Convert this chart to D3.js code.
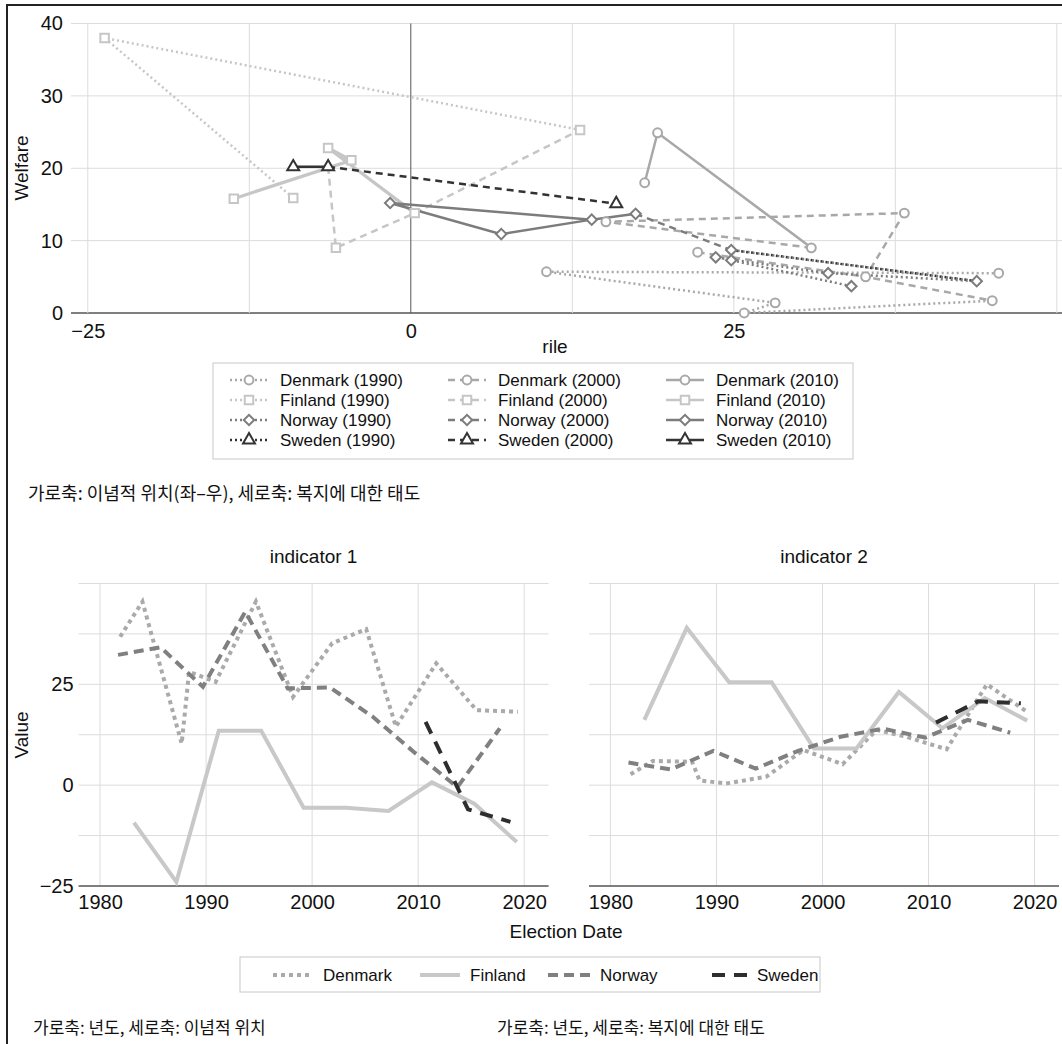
<!DOCTYPE html>
<html>
<head>
<meta charset="utf-8">
<script src="https://cdn.jsdelivr.net/npm/d3@7"></script>
<style>
    body { margin: 0; background: #fff; }
    svg text { font-family: "Liberation Sans", Arial, sans-serif; fill: #111; }
    svg text.kr { font-family: "Noto Sans CJK KR", sans-serif; }
</style>
</head>
<body>
<svg id="chart" width="1062" height="1044"></svg>
<script>
// ---- top chart: [rile, welfare] per country and decade, null breaks the line
var denmark1990 = [[45.5, 5.5], [10.5, 5.7], [28.2, 1.4], [25.8, 0.0], [45.0, 1.7]];
var denmark2000 = [[31.0, 9.0], [15.1, 12.6], [38.2, 13.8], [35.2, 5.0], [45.0, 1.7], null, [22.2, 8.4], [35.2, 5.0]];
var denmark2010 = [[18.1, 18.0], [19.1, 24.9], [31.0, 9.0]];
var finland1990 = [[-9.1, 15.9], [-23.7, 38.0], [13.1, 25.3]];
var finland2000 = [[-6.4, 20.2], [-5.8, 9.0], [0.3, 13.8], [13.1, 25.3]];
var finland2010 = [[-13.7, 15.8], [-4.6, 21.1], [-6.4, 22.8], [0.3, 13.8]];
var norway1990 = [[34.1, 3.7], [24.8, 7.3], [23.6, 7.7], [32.3, 5.5], [43.8, 4.4], [24.8, 8.7]];
var norway2000 = [[17.4, 13.7], [24.8, 8.7]];
var norway2010 = [[17.4, 13.7], [14.0, 12.9], [-1.6, 15.2], [7.0, 10.9], [14.0, 12.9]];
var sweden1990 = [[24.8, 8.7], [43.8, 4.4]];
var sweden2000 = [[-6.4, 20.2], [15.9, 15.1]];
var sweden2010 = [[-9.1, 20.2], [-6.4, 20.2]];

var rileTicks = [-25, 0, 25];
var welfareTicks = [0, 10, 20, 30, 40];

// ---- bottom panels: election date and two indicators
var denmarkYears = [1981.9, 1984.0, 1987.7, 1988.4, 1990.9, 1994.7, 1998.2, 2001.9, 2005.1, 2007.9, 2011.7, 2015.5, 2019.4];
var denmarkInd1 = [36.8, 45.5, 10.3, 28.1, 25.6, 45.5, 21.9, 35.2, 38.7, 14.5, 30.2, 18.6, 18.2];
var denmarkInd2 = [2.7, 6.0, 5.8, 1.2, 0.4, 2.1, 8.7, 5.2, 13.7, 12.0, 8.9, 25.0, 18.0];
var finlandYears = [1983.2, 1987.2, 1991.2, 1995.2, 1999.2, 2003.2, 2007.2, 2011.3, 2015.3, 2019.3];
var finlandInd1 = [-9.3, -24.0, 13.5, 13.5, -5.6, -5.6, -6.4, 0.7, -4.6, -14.1];
var finlandInd2 = [16.2, 39.0, 25.5, 25.5, 9.1, 9.1, 23.1, 14.1, 21.6, 16.0];
var norwayYears = [1981.7, 1985.7, 1989.7, 1993.7, 1997.7, 2001.7, 2005.7, 2009.7, 2013.7, 2017.7];
var norwayInd1 = [32.3, 34.2, 24.4, 43.0, 24.0, 24.2, 17.0, 8.0, -0.5, 14.1];
var norwayInd2 = [5.6, 3.9, 8.5, 4.1, 8.5, 12.0, 14.0, 11.8, 16.2, 13.0];
var swedenYears = [2010.7, 2014.7, 2018.7];
var swedenInd1 = [15.7, -6.0, -9.1];
var swedenInd2 = [15.5, 20.8, 20.3];

var yearTicks = [1980, 1990, 2000, 2010, 2020];
var valueTicks = [-25, 0, 25];

var countries = ['Denmark', 'Finland', 'Norway', 'Sweden'];
var decades = ['1990', '2000', '2010'];

var topSeries = [
    { country: 'Denmark', decade: '1990', points: denmark1990 },
    { country: 'Denmark', decade: '2000', points: denmark2000 },
    { country: 'Denmark', decade: '2010', points: denmark2010 },
    { country: 'Finland', decade: '1990', points: finland1990 },
    { country: 'Finland', decade: '2000', points: finland2000 },
    { country: 'Finland', decade: '2010', points: finland2010 },
    { country: 'Norway', decade: '1990', points: norway1990 },
    { country: 'Norway', decade: '2000', points: norway2000 },
    { country: 'Norway', decade: '2010', points: norway2010 },
    { country: 'Sweden', decade: '1990', points: sweden1990 },
    { country: 'Sweden', decade: '2000', points: sweden2000 },
    { country: 'Sweden', decade: '2010', points: sweden2010 }
];

var colors = { Denmark: '#a8a8a8', Finland: '#c6c6c6', Norway: '#7c7c7c', Sweden: '#333333' };
var dashes = { '1990': '2,3', '2000': '7,5', '2010': null };

var svg = d3.select('#chart');

// outer frame (only top and left edges are in the picture)
svg.append('path')
    .attr('d', 'M7,1044V5H1062')
    .attr('fill', 'none')
    .attr('stroke', '#222')
    .attr('stroke-width', 2);

function marker(sel, country) {
    var sym = d3.symbol();
    if (country === 'Denmark') sym.type(d3.symbolCircle).size(62);
    if (country === 'Finland') sym.type(d3.symbolSquare).size(72);
    if (country === 'Norway') sym.type(d3.symbolSquare).size(54);
    if (country === 'Sweden') sym.type(d3.symbolTriangle).size(62);
    sel.attr('d', sym)
        .attr('fill', '#fff')
        .attr('stroke', colors[country])
        .attr('stroke-width', 2);
}

drawTop();
drawBottom();

function drawTop() {
    var x = d3.scaleLinear().domain([-26.3, 50.4]).range([71, 1062]);
    var y = d3.scaleLinear().domain([0, 40]).range([313, 23.5]);
    var g = svg.append('g');

    g.selectAll('.hgrid')
        .data(welfareTicks)
        .enter()
        .append('line')
        .attr('x1', 71).attr('x2', 1062)
        .attr('y1', y).attr('y2', y)
        .attr('stroke', function (d) { return d === 0 ? '#555' : '#dcdcdc'; })
        .attr('stroke-width', function (d) { return d === 0 ? 1.5 : 1; });

    g.selectAll('.vgrid')
        .data(d3.range(-25, 50.1, 12.5))
        .enter()
        .append('line')
        .attr('x1', x).attr('x2', x)
        .attr('y1', y(0)).attr('y2', y(40))
        .attr('stroke', function (d) { return d === 0 ? '#555' : '#dcdcdc'; });

    var xAxis = g.append('g')
        .attr('transform', 'translate(0,' + y(0) + ')')
        .call(d3.axisBottom(x).tickValues(rileTicks).tickSize(0).tickPadding(11));
    xAxis.select('.domain').remove();
    xAxis.selectAll('text').style('font-size', '20px').attr('fill', '#111');

    var yAxis = g.append('g')
        .attr('transform', 'translate(71,0)')
        .call(d3.axisLeft(y).tickValues(welfareTicks).tickSize(0).tickPadding(8));
    yAxis.select('.domain').remove();
    yAxis.selectAll('text').style('font-size', '20px').attr('fill', '#111');

    g.append('text')
        .attr('x', 555).attr('y', 353)
        .attr('text-anchor', 'middle')
        .style('font-size', '19px')
        .text('rile');

    g.append('text')
        .attr('transform', 'translate(28,168) rotate(-90)')
        .attr('text-anchor', 'middle')
        .style('font-size', '19px')
        .text('Welfare');

    var line = d3.line()
        .defined(function (d) { return d !== null; })
        .x(function (d) { return x(d[0]); })
        .y(function (d) { return y(d[1]); });

    var order = ['Finland', 'Denmark', 'Sweden', 'Norway'];
    var series = topSeries.slice().sort(function (a, b) {
        return order.indexOf(a.country) - order.indexOf(b.country);
    });

    series.forEach(function (s) {
        g.append('path')
            .attr('d', line(s.points))
            .attr('fill', 'none')
            .attr('stroke', colors[s.country])
            .attr('stroke-width', s.country === 'Finland' && s.decade === '2010' ? 3.2 : 2.5)
            .attr('stroke-dasharray', dashes[s.decade]);
    });

    // one marker per position: the series drawn last keeps it
    var marks = {};
    series.forEach(function (s) {
        s.points.forEach(function (d) {
            if (d !== null) marks[d[0] + ',' + d[1]] = { p: d, country: s.country };
        });
    });
    Object.values(marks).forEach(function (m) {
        g.append('path')
            .attr('transform', 'translate(' + x(m.p[0]) + ',' + y(m.p[1]) + ')' + (m.country === 'Norway' ? ' rotate(45)' : ''))
            .call(marker, m.country);
    });

    // legend
    var lg = svg.append('g');
    lg.append('rect')
        .attr('x', 213).attr('y', 363)
        .attr('width', 640).attr('height', 96)
        .attr('fill', '#fff')
        .attr('stroke', '#c8c8c8');

    var colX = [280, 498, 716];
    decades.forEach(function (dec, ci) {
        countries.forEach(function (c, ri) {
            var tx = colX[ci];
            var ty = 380 + ri * 20;
            lg.append('line')
                .attr('x1', tx - 50).attr('x2', tx - 12)
                .attr('y1', ty).attr('y2', ty)
                .attr('stroke', colors[c])
                .attr('stroke-width', 2.5)
                .attr('stroke-dasharray', dashes[dec]);
            lg.append('path')
                .attr('transform', 'translate(' + (tx - 31) + ',' + ty + ')' + (c === 'Norway' ? ' rotate(45)' : ''))
                .call(marker, c);
            lg.append('text')
                .attr('x', tx).attr('y', ty + 6)
                .style('font-size', '17px')
                .text(c + ' (' + dec + ')');
        });
    });

    svg.append('text')
        .attr('class', 'kr')
        .attr('x', 28).attr('y', 500)
        .style('font-size', '18px')
        .text('가로축: 이념적 위치(좌–우), 세로축: 복지에 대한 태도');
}

function drawBottom() {
    var y = d3.scaleLinear().domain([-25, 50]).range([886, 583.5]);
    var panels = [
        { title: 'indicator 1', left: 78.6, values: [denmarkInd1, finlandInd1, norwayInd1, swedenInd1], axis: true },
        { title: 'indicator 2', left: 589, values: [denmarkInd2, finlandInd2, norwayInd2, swedenInd2], axis: false }
    ];
    var years = [denmarkYears, finlandYears, norwayYears, swedenYears];
    var style = {
        Denmark: { color: '#aaaaaa', dash: '4,4', key: 40 },
        Finland: { color: '#c8c8c8', dash: null, key: 40 },
        Norway: { color: '#808080', dash: '10,6', key: 42 },
        Sweden: { color: '#2e2e2e', dash: '13,9', key: 35 }
    };

    panels.forEach(function (p) {
        var x = d3.scaleLinear().domain([1977.98, 2022.3]).range([p.left, p.left + 470]);
        var g = svg.append('g');

        g.selectAll(null)
            .data(d3.range(-12.5, 50.1, 12.5))
            .enter()
            .append('line')
            .attr('x1', p.left).attr('x2', p.left + 470)
            .attr('y1', y).attr('y2', y)
            .attr('stroke', '#dcdcdc');

        g.selectAll(null)
            .data(yearTicks)
            .enter()
            .append('line')
            .attr('x1', x).attr('x2', x)
            .attr('y1', y(-25)).attr('y2', y(50))
            .attr('stroke', '#dcdcdc');

        g.append('line')
            .attr('x1', p.left).attr('x2', p.left + 470)
            .attr('y1', y(-25)).attr('y2', y(-25))
            .attr('stroke', '#555')
            .attr('stroke-width', 1.5);

        var xAxis = g.append('g')
            .attr('transform', 'translate(0,' + y(-25) + ')')
            .call(d3.axisBottom(x).tickValues(yearTicks).tickFormat(d3.format('d')).tickSize(0).tickPadding(9));
        xAxis.select('.domain').remove();
        xAxis.selectAll('text').style('font-size', '20px').attr('fill', '#111');

        if (p.axis) {
            var yAxis = g.append('g')
                .attr('transform', 'translate(' + p.left + ',0)')
                .call(d3.axisLeft(y).tickValues(valueTicks).tickSize(0).tickPadding(5));
            yAxis.select('.domain').remove();
            yAxis.selectAll('text').style('font-size', '20px').attr('fill', '#111');
        }

        g.append('text')
            .attr('x', p.left + 235).attr('y', 563)
            .attr('text-anchor', 'middle')
            .style('font-size', '19px')
            .text(p.title);

        countries.forEach(function (c, i) {
            var pts = years[i].map(function (yr, j) { return [yr, p.values[i][j]]; });
            g.append('path')
                .attr('d', d3.line().x(function (d) { return x(d[0]); }).y(function (d) { return y(d[1]); })(pts))
                .attr('fill', 'none')
                .attr('stroke', style[c].color)
                .attr('stroke-width', 4)
                .attr('stroke-dasharray', style[c].dash);
        });
    });

    svg.append('text')
        .attr('transform', 'translate(28,735) rotate(-90)')
        .attr('text-anchor', 'middle')
        .style('font-size', '19px')
        .text('Value');

    svg.append('text')
        .attr('x', 566).attr('y', 938)
        .attr('text-anchor', 'middle')
        .style('font-size', '19px')
        .text('Election Date');

    // legend
    var lg = svg.append('g');
    lg.append('rect')
        .attr('x', 240).attr('y', 957)
        .attr('width', 580).attr('height', 35)
        .attr('fill', '#fff')
        .attr('stroke', '#c8c8c8');
    var itemX = [323, 470, 600, 757];
    countries.forEach(function (c, i) {
        lg.append('line')
            .attr('x1', itemX[i] - 10 - style[c].key).attr('x2', itemX[i] - 10)
            .attr('y1', 975).attr('y2', 975)
            .attr('stroke', style[c].color)
            .attr('stroke-width', 4)
            .attr('stroke-dasharray', style[c].dash);
        lg.append('text')
            .attr('x', itemX[i]).attr('y', 981)
            .style('font-size', '17px')
            .text(c);
    });

    svg.append('text')
        .attr('class', 'kr')
        .attr('x', 33).attr('y', 1034)
        .style('font-size', '17px')
        .text('가로축: 년도, 세로축: 이념적 위치');
    svg.append('text')
        .attr('class', 'kr')
        .attr('x', 497).attr('y', 1034)
        .style('font-size', '17px')
        .text('가로축: 년도, 세로축: 복지에 대한 태도');
}
</script>
</body>
</html>
